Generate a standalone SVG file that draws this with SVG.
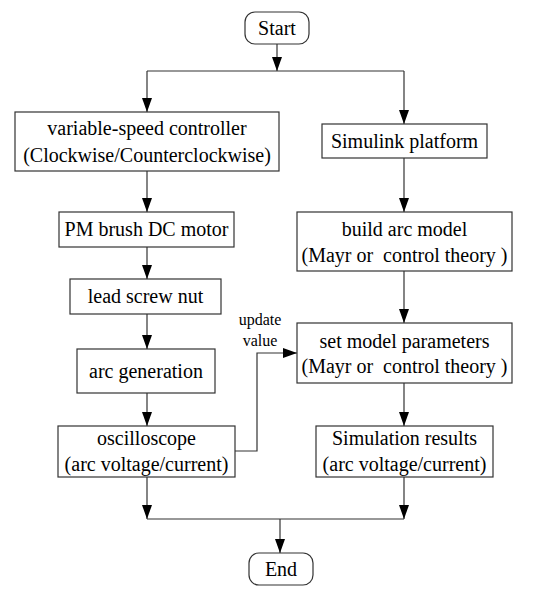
<svg xmlns="http://www.w3.org/2000/svg" width="550" height="593" viewBox="0 0 550 593">
<defs>
<marker id="ah" markerWidth="14" markerHeight="10" refX="14" refY="5" orient="auto" markerUnits="userSpaceOnUse">
<path d="M0,0 L14,5 L0,10 Z" fill="#000"/>
</marker>
<style>
.box{fill:#fff;stroke:#333;stroke-width:1.2}
.t{font-family:"Liberation Serif","Times New Roman",serif;font-size:20px;fill:#000;text-anchor:middle}
.s{font-family:"Liberation Serif","Times New Roman",serif;font-size:16px;fill:#000;text-anchor:middle}
.ln{fill:none;stroke:#333;stroke-width:1.2}
.ar{fill:none;stroke:#333;stroke-width:1.2;marker-end:url(#ah)}
</style>
</defs>
<rect width="550" height="593" fill="#fff"/>
<g id="connectors">
<path class="ar" d="M277,44 V71"/>
<path class="ln" d="M147,71 H404"/>
<path class="ar" d="M147,71 V112"/>
<path class="ar" d="M404,71 V124"/>
<path class="ar" d="M147,171 V212"/>
<path class="ar" d="M404,158 V212"/>
<path class="ar" d="M147,247 V279"/>
<path class="ar" d="M404,271 V323"/>
<path class="ar" d="M147,314 V349"/>
<path class="ar" d="M147,393 V426"/>
<path class="ar" d="M404,383 V426"/>
<path class="ar" d="M235,451 H257 V353 H297"/>
<path class="ar" d="M147,477 V519"/>
<path class="ar" d="M404,477 V519"/>
<path class="ln" d="M147,519 H404"/>
<path class="ar" d="M280,519 V553"/>
<text class="s" x="260" y="325">update</text>
<text class="s" x="260" y="346">value</text>
</g>
<g id="start"><rect class="box" x="245" y="12" width="64" height="32" rx="10"/><text class="t" x="277" y="35">Start</text></g>
<g id="controller"><rect class="box" x="15" y="112" width="264" height="59"/><text class="t" x="147" y="135">variable-speed controller</text><text class="t" x="147" y="162">(Clockwise/Counterclockwise)</text></g>
<g id="simulink"><rect class="box" x="322" y="124" width="165" height="34"/><text class="t" x="404.5" y="148">Simulink platform</text></g>
<g id="motor"><rect class="box" x="59" y="212" width="175" height="35"/><text class="t" x="146.5" y="236">PM brush DC motor</text></g>
<g id="build"><rect class="box" x="297" y="212" width="215" height="59"/><text class="t" x="404.5" y="236">build arc model</text><text class="t" x="404.5" y="262" xml:space="preserve">(Mayr or  control theory )</text></g>
<g id="screw"><rect class="box" x="70" y="279" width="151" height="35"/><text class="t" x="145.5" y="303">lead screw nut</text></g>
<g id="params"><rect class="box" x="297" y="323" width="215" height="60"/><text class="t" x="404.5" y="348">set model parameters</text><text class="t" x="404.5" y="373" xml:space="preserve">(Mayr or  control theory )</text></g>
<g id="arcgen"><rect class="box" x="77" y="349" width="138" height="44"/><text class="t" x="146" y="378">arc generation</text></g>
<g id="osc"><rect class="box" x="58" y="426" width="177" height="51"/><text class="t" x="146.5" y="445">oscilloscope</text><text class="t" x="146.5" y="471">(arc voltage/current)</text></g>
<g id="simres"><rect class="box" x="316" y="426" width="177" height="51"/><text class="t" x="404.5" y="445">Simulation results</text><text class="t" x="404.5" y="471">(arc voltage/current)</text></g>
<g id="end"><rect class="box" x="249" y="553" width="64" height="32" rx="10"/><text class="t" x="281" y="576">End</text></g>
</svg>
